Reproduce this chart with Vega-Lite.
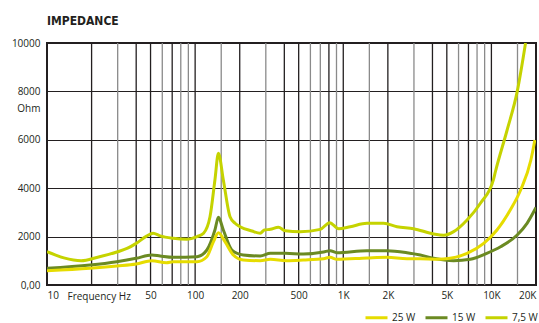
{
  "$schema": "https://vega.github.io/schema/vega-lite/v6.json",
  "width": 489,
  "height": 242,
  "autosize": {"type": "none"},
  "padding": {"left": 47, "top": 43, "right": 3, "bottom": 38},
  "background": "white",
  "config": {"view": {"stroke": "#231f20", "strokeWidth": 2}, "font": "Open Sans"},
  "title": {"text": "IMPEDANCE", "anchor": "start", "frame": "group", "font": "'DejaVu Sans Condensed', Roboto", "fontSize": 12, "fontWeight": "bold", "color": "#231f20", "offset": 10},
  "datasets": {
    "grid": [
      {"f": 20, "kind": "major"}, {"f": 30, "kind": "minor"}, {"f": 40, "kind": "major"}, {"f": 50, "kind": "major"},
      {"f": 60, "kind": "minor"}, {"f": 70, "kind": "major"}, {"f": 80, "kind": "minor"}, {"f": 90, "kind": "minor"},
      {"f": 100, "kind": "major"}, {"f": 150, "kind": "minor"}, {"f": 200, "kind": "major"}, {"f": 300, "kind": "minor"},
      {"f": 400, "kind": "major"}, {"f": 500, "kind": "major"}, {"f": 600, "kind": "minor"}, {"f": 700, "kind": "minor"},
      {"f": 800, "kind": "major"}, {"f": 900, "kind": "minor"}, {"f": 1000, "kind": "major"}, {"f": 1500, "kind": "minor"},
      {"f": 2000, "kind": "major"}, {"f": 3000, "kind": "minor"}, {"f": 4000, "kind": "major"}, {"f": 5000, "kind": "major"},
      {"f": 6000, "kind": "minor"}, {"f": 7000, "kind": "major"}, {"f": 8000, "kind": "minor"}, {"f": 9000, "kind": "minor"},
      {"f": 10000, "kind": "major"}, {"f": 15000, "kind": "minor"}
    ],
    "curves": [
      {"series": "7,5 W", "f": 10, "ohm": 1376}, {"series": "7,5 W", "f": 13, "ohm": 1120}, {"series": "7,5 W", "f": 17, "ohm": 1004},
      {"series": "7,5 W", "f": 22, "ohm": 1150}, {"series": "7,5 W", "f": 30, "ohm": 1376}, {"series": "7,5 W", "f": 35, "ohm": 1520},
      {"series": "7,5 W", "f": 40, "ohm": 1720}, {"series": "7,5 W", "f": 47, "ohm": 2020}, {"series": "7,5 W", "f": 52, "ohm": 2140},
      {"series": "7,5 W", "f": 58, "ohm": 2030}, {"series": "7,5 W", "f": 71, "ohm": 1930}, {"series": "7,5 W", "f": 88, "ohm": 1890},
      {"series": "7,5 W", "f": 103, "ohm": 2000}, {"series": "7,5 W", "f": 114, "ohm": 2140}, {"series": "7,5 W", "f": 126, "ohm": 2820},
      {"series": "7,5 W", "f": 136, "ohm": 4340}, {"series": "7,5 W", "f": 143.6, "ohm": 5440}, {"series": "7,5 W", "f": 155, "ohm": 4340},
      {"series": "7,5 W", "f": 172, "ohm": 2820}, {"series": "7,5 W", "f": 186, "ohm": 2550}, {"series": "7,5 W", "f": 201, "ohm": 2410},
      {"series": "7,5 W", "f": 242, "ohm": 2230}, {"series": "7,5 W", "f": 275, "ohm": 2140}, {"series": "7,5 W", "f": 293, "ohm": 2270},
      {"series": "7,5 W", "f": 322, "ohm": 2300}, {"series": "7,5 W", "f": 365, "ohm": 2384}, {"series": "7,5 W", "f": 405, "ohm": 2244},
      {"series": "7,5 W", "f": 512, "ohm": 2204}, {"series": "7,5 W", "f": 700, "ohm": 2300}, {"series": "7,5 W", "f": 809, "ohm": 2575},
      {"series": "7,5 W", "f": 930, "ohm": 2328}, {"series": "7,5 W", "f": 1114, "ohm": 2409}, {"series": "7,5 W", "f": 1445, "ohm": 2550},
      {"series": "7,5 W", "f": 1871, "ohm": 2550}, {"series": "7,5 W", "f": 2306, "ohm": 2409}, {"series": "7,5 W", "f": 2985, "ohm": 2328},
      {"series": "7,5 W", "f": 4073, "ohm": 2107}, {"series": "7,5 W", "f": 4761, "ohm": 2053}, {"series": "7,5 W", "f": 5562, "ohm": 2204},
      {"series": "7,5 W", "f": 6850, "ohm": 2686}, {"series": "7,5 W", "f": 8430, "ohm": 3376}, {"series": "7,5 W", "f": 10370, "ohm": 4400},
      {"series": "7,5 W", "f": 10640, "ohm": 4680}, {"series": "7,5 W", "f": 12770, "ohm": 6405}, {"series": "7,5 W", "f": 14930, "ohm": 7989},
      {"series": "7,5 W", "f": 17000, "ohm": 10000},

      {"series": "15 W", "f": 10, "ohm": 689}, {"series": "15 W", "f": 19.5, "ohm": 826}, {"series": "15 W", "f": 29.6, "ohm": 964},
      {"series": "15 W", "f": 40, "ohm": 1102}, {"series": "15 W", "f": 51, "ohm": 1240}, {"series": "15 W", "f": 58, "ohm": 1198},
      {"series": "15 W", "f": 71, "ohm": 1143}, {"series": "15 W", "f": 103, "ohm": 1171}, {"series": "15 W", "f": 120, "ohm": 1446},
      {"series": "15 W", "f": 136, "ohm": 2273}, {"series": "15 W", "f": 143.6, "ohm": 2797}, {"series": "15 W", "f": 155, "ohm": 2273},
      {"series": "15 W", "f": 177, "ohm": 1446}, {"series": "15 W", "f": 211, "ohm": 1240}, {"series": "15 W", "f": 275, "ohm": 1198},
      {"series": "15 W", "f": 322, "ohm": 1308}, {"series": "15 W", "f": 405, "ohm": 1308}, {"series": "15 W", "f": 537, "ohm": 1281},
      {"series": "15 W", "f": 737, "ohm": 1364}, {"series": "15 W", "f": 815, "ohm": 1418}, {"series": "15 W", "f": 905, "ohm": 1336},
      {"series": "15 W", "f": 1445, "ohm": 1418}, {"series": "15 W", "f": 1974, "ohm": 1418}, {"series": "15 W", "f": 2692, "ohm": 1336},
      {"series": "15 W", "f": 3313, "ohm": 1240}, {"series": "15 W", "f": 4073, "ohm": 1102}, {"series": "15 W", "f": 5562, "ohm": 1004},
      {"series": "15 W", "f": 7200, "ohm": 1061}, {"series": "15 W", "f": 9300, "ohm": 1308}, {"series": "15 W", "f": 11530, "ohm": 1583},
      {"series": "15 W", "f": 14930, "ohm": 2066}, {"series": "15 W", "f": 17400, "ohm": 2550}, {"series": "15 W", "f": 20000, "ohm": 3200},

      {"series": "25 W", "f": 10, "ohm": 591}, {"series": "25 W", "f": 19.5, "ohm": 689}, {"series": "25 W", "f": 29.6, "ohm": 785},
      {"series": "25 W", "f": 40, "ohm": 868}, {"series": "25 W", "f": 51, "ohm": 1004}, {"series": "25 W", "f": 64, "ohm": 921},
      {"series": "25 W", "f": 71, "ohm": 963}, {"series": "25 W", "f": 103, "ohm": 963}, {"series": "25 W", "f": 120, "ohm": 1170},
      {"series": "25 W", "f": 133, "ohm": 1790}, {"series": "25 W", "f": 143.6, "ohm": 2160}, {"series": "25 W", "f": 159, "ohm": 1790},
      {"series": "25 W", "f": 181, "ohm": 1240}, {"series": "25 W", "f": 211, "ohm": 1033}, {"series": "25 W", "f": 275, "ohm": 1004},
      {"series": "25 W", "f": 322, "ohm": 1061}, {"series": "25 W", "f": 414, "ohm": 1004}, {"series": "25 W", "f": 537, "ohm": 1033},
      {"series": "25 W", "f": 737, "ohm": 1088}, {"series": "25 W", "f": 815, "ohm": 1143}, {"series": "25 W", "f": 905, "ohm": 1061},
      {"series": "25 W", "f": 1445, "ohm": 1116}, {"series": "25 W", "f": 1974, "ohm": 1143}, {"series": "25 W", "f": 2692, "ohm": 1088},
      {"series": "25 W", "f": 3313, "ohm": 1088}, {"series": "25 W", "f": 4270, "ohm": 1061}, {"series": "25 W", "f": 5260, "ohm": 1102},
      {"series": "25 W", "f": 6850, "ohm": 1308}, {"series": "25 W", "f": 8870, "ohm": 1723}, {"series": "25 W", "f": 10900, "ohm": 2273},
      {"series": "25 W", "f": 13400, "ohm": 3099}, {"series": "25 W", "f": 15750, "ohm": 3926}, {"series": "25 W", "f": 18470, "ohm": 5165},
      {"series": "25 W", "f": 19650, "ohm": 5992}
    ]
  },
  "layer": [
    {
      "data": {"name": "grid"},
      "mark": {"type": "rule", "strokeWidth": 1.3},
      "encoding": {
        "x": {"field": "f", "type": "quantitative", "scale": {"type": "log", "domain": [10, 20000], "nice": false},
          "axis": {"values": [10, 50, 100, 200, 500, 1000, 2000, 5000, 10000, 20000], "format": "d",
            "labelExpr": "datum.value >= 1000 ? (datum.value / 1000) + 'K' : datum.label",
            "grid": false, "ticks": false, "domain": false, "labelFlush": true, "labelPadding": 5, "labelFontSize": 10, "labelColor": "#231f20",
            "title": "Frequency Hz", "titleX": 20, "titleY": 11, "titleAlign": "left", "titleBaseline": "middle", "titleFontSize": 10, "titleFontWeight": "normal", "titleColor": "#231f20"}},
        "stroke": {"field": "kind", "type": "nominal", "scale": {"domain": ["major", "minor"], "range": ["#231f20", "#8a8a8a"]}, "legend": null}
      }
    },
    {
      "data": {"name": "curves"},
      "mark": {"type": "line", "strokeWidth": 3, "interpolate": "monotone", "clip": true},
      "encoding": {
        "x": {"field": "f", "type": "quantitative", "scale": {"type": "log", "domain": [10, 20000], "nice": false},
          "axis": {"values": [10, 50, 100, 200, 500, 1000, 2000, 5000, 10000, 20000], "format": "d",
            "labelExpr": "datum.value >= 1000 ? (datum.value / 1000) + 'K' : datum.label",
            "grid": false, "ticks": false, "domain": false, "labelFlush": true, "labelPadding": 5, "labelFontSize": 10, "labelColor": "#231f20",
            "title": "Frequency Hz", "titleX": 20, "titleY": 11, "titleAlign": "left", "titleBaseline": "middle", "titleFontSize": 10, "titleFontWeight": "normal", "titleColor": "#231f20"}},
        "y": {"field": "ohm", "type": "quantitative", "scale": {"domain": [0, 10000], "nice": false},
          "axis": {"values": [0, 2000, 4000, 6000, 8000, 10000], "format": "d",
            "labelExpr": "datum.value == 0 ? '0,00' : datum.label",
            "grid": true, "gridColor": "#231f20", "gridWidth": 1.2, "ticks": false, "domain": false, "labelPadding": 7, "labelFontSize": 10, "labelColor": "#231f20",
            "title": "Ohm", "titleAngle": 0, "titleX": -7, "titleY": 65, "titleAlign": "right", "titleBaseline": "middle", "titleFontSize": 10, "titleFontWeight": "normal", "titleColor": "#231f20"}},
        "color": {"field": "series", "type": "nominal", "scale": {"domain": ["25 W", "15 W", "7,5 W"], "range": ["#e6dc00", "#6b8a22", "#c5d300"]},
          "legend": {"orient": "none", "legendX": 317, "legendY": 262, "direction": "horizontal", "title": null, "symbolType": "stroke", "symbolSize": 484, "symbolStrokeWidth": 3, "labelFontSize": 10, "labelColor": "#231f20", "columnPadding": 3, "labelOffset": 3}}
      }
    }
  ]
}
